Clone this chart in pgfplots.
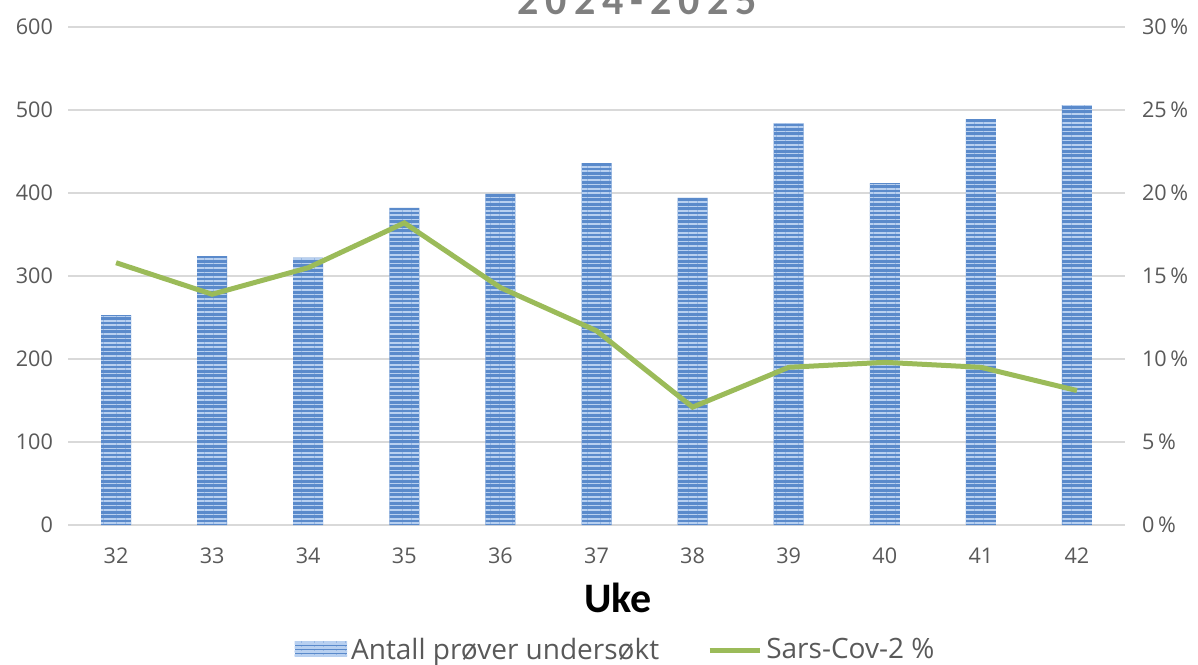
\documentclass[border=0pt]{standalone}
\usepackage{fontspec}
\setmainfont{Open Sans}
\newfontfamily\calibri{Carlito}
\usepackage{pgfplots}
\pgfplotsset{compat=1.18}
\usetikzlibrary{patterns.meta}
\definecolor{BarBlue}{HTML}{5A8ACB}
\definecolor{BarLight}{HTML}{B8D0F0}
\definecolor{LineGreen}{HTML}{9BBB59}
\definecolor{TickGray}{HTML}{595959}
\definecolor{GridGray}{HTML}{D9D9D9}
\definecolor{TitleGray}{HTML}{7F7F7F}

\begin{document}
\begin{tikzpicture}
\pgfplotsset{
  base/.style={
    scale only axis,
    width=528.5pt, height=249pt,
    xmin=31.5, xmax=42.5,
    xtick={32,...,42},
    tick label style={font=\fontsize{10.8}{12}\selectfont, color=TickGray},
    /pgf/number format/assume math mode=true,
    major tick length=0pt,
  }
}
\begin{axis}[
  base,
  ymin=0, ymax=600,
  ytick={0,100,...,600},
  axis y line*=left,
  axis x line*=bottom,
  y axis line style={draw=none},
  x axis line style={draw=GridGray, line width=0.8pt},
  ymajorgrids,
  grid style={GridGray, line width=0.6pt},
  xticklabel style={yshift=-8pt},
  yticklabel style={xshift=-4pt},
  ylabel={}, xlabel={},
  legend style={draw=none, fill=none, at={(0.519,-0.251)}, anchor=center,
    legend columns=2, font=\fontsize{14}{16}\selectfont\color{TickGray},
    /tikz/every even column/.append style={column sep=22pt}},
  legend image code/.code={
    \fill[BarBlue, postaction={pattern={Lines[angle=0,distance=2pt,line width=0.7pt]}, pattern color=BarLight}]
      (0cm,-0.12cm) rectangle (0.92cm,0.15cm);},
]
\addplot[ybar, bar width=15pt, draw=none, fill=BarBlue,
  postaction={pattern={Lines[angle=0,distance=2.2pt,line width=0.8pt]}, pattern color=BarLight}]
  coordinates {(32,253) (33,324) (34,322) (35,382) (36,399) (37,436)
               (38,394) (39,484) (40,412) (41,489) (42,506)};
\addlegendentry{Antall prøver undersøkt}
\addlegendimage{legend image code/.code={\draw[LineGreen, line width=2.5pt] (0cm,0cm) -- (0.88cm,0cm);}}
\addlegendentry{Sars-Cov-2 \%}
\end{axis}
\begin{axis}[
  base,
  ymin=0, ymax=30,
  ytick={0,5,...,30},
  yticklabel={\pgfmathprintnumber{\tick}\,\%},
  axis y line*=right,
  axis x line=none,
  y axis line style={draw=none},
  yticklabel style={xshift=5pt},
]
\addplot[LineGreen, line width=2.5pt, mark=none] coordinates {
  (32,15.8) (33,13.9) (34,15.5) (35,18.2) (36,14.3) (37,11.7)
  (38,7.1) (39,9.5) (40,9.8) (41,9.5) (42,8.1)};
\end{axis}
\node[font=\calibri\fontsize{21}{23}\selectfont\bfseries] at (275pt,-36.5pt) {Uke};
\node[font=\calibri\fontsize{21}{23}\selectfont\bfseries, color=TitleGray, anchor=base] at (284.5pt,255pt) {2\,0\,2\,4\,-\,2\,0\,2\,5};
\pgfresetboundingbox
\path[use as bounding box] (-34pt,-69.5pt) rectangle (565pt,262.5pt);
\end{tikzpicture}
\end{document}
